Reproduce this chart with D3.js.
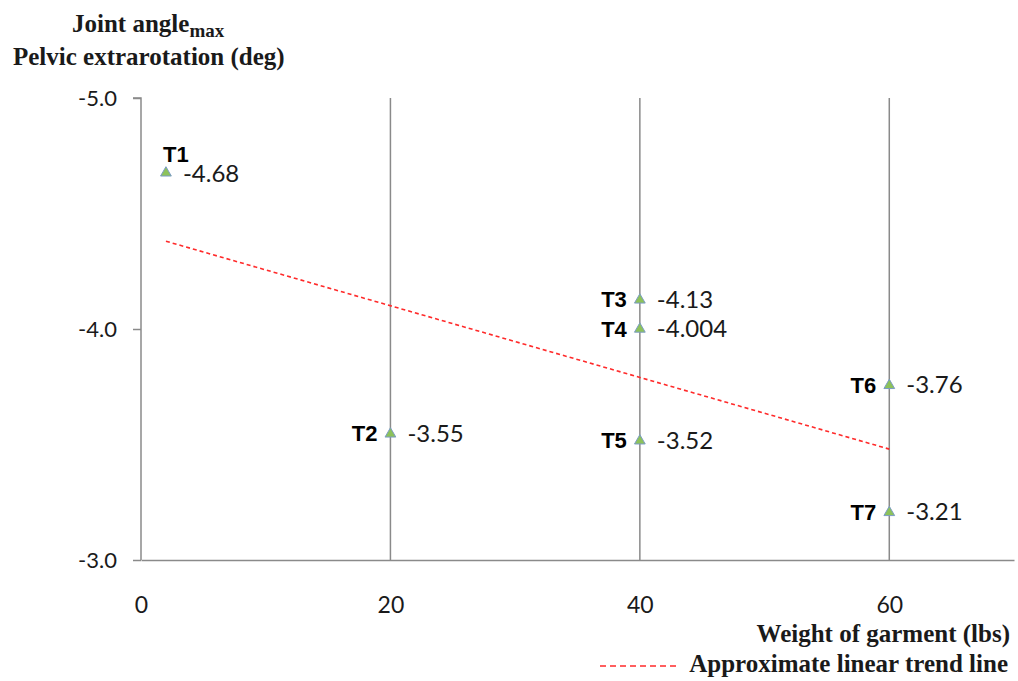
<!DOCTYPE html>
<html>
<head>
<meta charset="utf-8">
<script src="https://cdn.jsdelivr.net/npm/d3@7"></script>
<style>
  html, body { margin: 0; padding: 0; background: #fff; }
  svg { display: block; }
</style>
</head>
<body>
<svg id="chart" width="1018" height="681"></svg>
<script>
// Trial data: garment weight (lbs) vs max pelvic extrarotation (deg)
const trials  = ["T1", "T2", "T3", "T4", "T5", "T6", "T7"];
const weights = [2, 20, 40, 40, 40, 60, 60];
const angles  = [-4.68, -3.55, -4.13, -4.004, -3.52, -3.76, -3.21];
const valueLabels = ["-4.68", "-3.55", "-4.13", "-4.004", "-3.52", "-3.76", "-3.21"];

// Trend line endpoints
const trendX = [2, 60];
const trendY = [-4.38, -3.48];

const xTicks = [0, 20, 40, 60];
const yTicks = [-5.0, -4.0, -3.0];
const guideX = [20, 40, 60];

const svg = d3.select("#chart");
const axisColor = "#8a8a8a";
const tickFont = "Lato, 'Open Sans', sans-serif";
const serif = "'Liberation Serif', 'Times New Roman', serif";
const boldSans = "'Liberation Sans', Arial, sans-serif";
const textColor = "#1a1a1a";

const x = d3.scaleLinear().domain([0, 70]).range([141, 1014]);
const y = d3.scaleLinear().domain([-5, -3]).range([98, 560]);

// vertical guide lines at 20/40/60
svg.append("g").selectAll("line").data(guideX).join("line")
  .attr("x1", d => x(d)).attr("x2", d => x(d))
  .attr("y1", y(-5)).attr("y2", y(-3))
  .attr("stroke", axisColor).attr("stroke-width", 1.5);

// y axis
const yAxis = svg.append("g")
  .attr("transform", `translate(${x(0)},0)`)
  .call(d3.axisLeft(y).tickValues(yTicks).tickFormat(d => d.toFixed(1)).tickSize(8).tickPadding(16));
yAxis.select(".domain").attr("stroke", axisColor).attr("stroke-width", 1.5)
  .attr("d", `M-8,${y(-5)}H0V${y(-3)}`);
yAxis.selectAll(".tick line").attr("stroke", axisColor).attr("stroke-width", 1.5);
yAxis.selectAll(".tick text")
  .attr("font-family", tickFont).attr("font-size", 22).attr("fill", textColor)
  .attr("dy", "0.36em");

// x axis
const xAxis = svg.append("g")
  .attr("transform", `translate(0,${y(-3)})`)
  .call(d3.axisBottom(x).tickValues(xTicks).tickFormat(d3.format("d")).tickSize(0).tickPadding(37));
xAxis.select(".domain").attr("stroke", axisColor).attr("stroke-width", 1.5);
xAxis.selectAll(".tick text")
  .attr("font-family", tickFont).attr("font-size", 23).attr("fill", textColor);

// trend line
svg.append("path")
  .datum(d3.zip(trendX, trendY))
  .attr("d", d3.line().x(d => x(d[0])).y(d => y(d[1])))
  .attr("fill", "none").attr("stroke", "#ff2a2a").attr("stroke-width", 1.6)
  .attr("stroke-dasharray", "4,3");

// markers
const tri = d3.symbol().type(d3.symbolTriangle).size(50);
const pts = svg.append("g").selectAll("g").data(trials.map((t, i) => ({
  t, w: weights[i], a: angles[i], lbl: valueLabels[i]
}))).join("g").attr("transform", d => `translate(${x(d.w)},${y(d.a)})`);

pts.append("path").attr("d", tri).attr("transform", "translate(0,1)")
  .attr("fill", "#8dc25a").attr("stroke", "#7b9cc4").attr("stroke-width", 1);

pts.append("text")
  .attr("x", 17).attr("y", d => d.t === "T1" ? 10 : 9)
  .attr("font-family", tickFont).attr("font-size", 24).attr("fill", textColor)
  .text(d => d.lbl);

pts.append("text")
  .attr("x", d => d.t === "T1" ? -3 : -13)
  .attr("y", d => d.t === "T1" ? -10 : 8.5)
  .attr("text-anchor", d => d.t === "T1" ? "start" : "end")
  .attr("font-family", boldSans).attr("font-weight", "bold").attr("font-size", 22)
  .attr("fill", "#000")
  .text(d => d.t);

// y-axis title
const t1 = svg.append("text")
  .attr("x", 72).attr("y", 32)
  .attr("font-family", serif).attr("font-weight", "bold").attr("font-size", 25).attr("fill", textColor);
t1.append("tspan").text("Joint angle");
t1.append("tspan").attr("dy", 5).attr("font-size", 19).text("max");
svg.append("text")
  .attr("x", 13).attr("y", 65)
  .attr("font-family", serif).attr("font-weight", "bold").attr("font-size", 25).attr("fill", textColor)
  .text("Pelvic extrarotation (deg)");

// x-axis title
svg.append("text")
  .attr("x", 1010).attr("y", 642).attr("text-anchor", "end")
  .attr("font-family", serif).attr("font-weight", "bold").attr("font-size", 25).attr("fill", textColor)
  .text("Weight of garment (lbs)");

// legend
svg.append("line")
  .attr("x1", 600).attr("x2", 680).attr("y1", 666).attr("y2", 666)
  .attr("stroke", "#ff2a2a").attr("stroke-width", 1.6).attr("stroke-dasharray", "6,4");
svg.append("text")
  .attr("x", 1008).attr("y", 672).attr("text-anchor", "end")
  .attr("font-family", serif).attr("font-weight", "bold").attr("font-size", 25).attr("fill", textColor)
  .text("Approximate linear trend line");
</script>
</body>
</html>
